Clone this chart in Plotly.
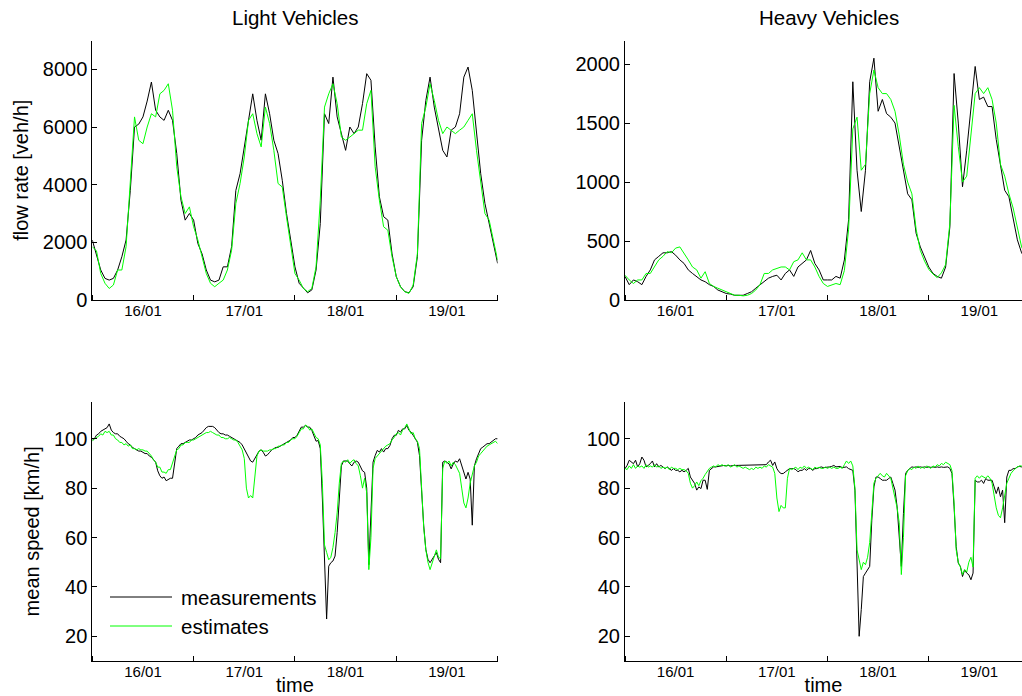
import numpy as np
import pandas as pd
import plotly.graph_objects as go

# ---------------- data ----------------
base = pd.Timestamp("2013-01-16")
hours = np.arange(0, 97)               # hourly samples, 16/01 00:00 .. 20/01 00:00
half_hours = np.arange(0, 193) * 0.5   # half-hourly samples

light_flow_meas = [
    2080, 1600, 1040, 750, 690, 750, 1040, 1500, 2080, 3800, 6000, 6100,
    6350, 6900, 7560, 6580, 6350, 6230, 6580, 6230, 5080, 3460, 2770, 3000,
    2770, 1960, 1600, 1040, 690, 630, 690, 1150, 1150, 1850, 3800, 4380,
    5310, 6230, 7150, 6230, 5540, 7150, 6460, 5540, 5080, 4150, 3000, 2080,
    1150, 580, 400, 250, 350, 1040, 2650, 6460, 6120, 7730, 6350, 5770,
    5190, 6000, 5770, 6000, 6810, 7850, 7620, 5310, 3580, 2890, 2770, 1600,
    810, 460, 290, 250, 460, 1500, 5540, 6920, 7730, 6690, 5890, 5190,
    4960, 5890, 6000, 6460, 7730, 8080, 7270, 5770, 4380, 3350, 2650, 1850,
    1270]
light_flow_est = [
    1850, 1700, 920, 580, 400, 520, 1040, 1040, 1850, 4150, 6350, 5540,
    5420, 6000, 6460, 6350, 7150, 7270, 7500, 6580, 4620, 3580, 3000, 3230,
    2540, 2080, 1500, 920, 580, 460, 580, 690, 1040, 1730, 3350, 4040,
    4960, 6230, 6460, 5770, 5310, 6690, 6120, 5190, 4040, 3920, 2880, 1850,
    920, 690, 400, 290, 400, 1150, 3460, 6690, 7150, 7500, 6810, 5650,
    5540, 5650, 5770, 5890, 5890, 6810, 7270, 4620, 3460, 2540, 2420, 1500,
    810, 460, 290, 230, 520, 1600, 6120, 6690, 7500, 6920, 6230, 5770,
    6000, 5890, 5770, 5890, 6000, 6230, 6460, 5190, 4150, 3000, 2770, 2080,
    1380]

heavy_flow_meas = [
    200, 130, 170, 155, 130, 200, 255, 340, 370, 400, 400, 410,
    380, 340, 310, 255, 225, 200, 170, 155, 130, 115, 85, 70,
    55, 50, 40, 40, 40, 55, 70, 100, 130, 155, 185, 200,
    210, 170, 225, 255, 200, 280, 310, 340, 420, 310, 255, 170,
    170, 170, 200, 185, 340, 680, 1850, 1100, 750, 1100, 1850, 2050,
    1600, 1700, 1580, 1550, 1500, 1300, 1070, 900, 850, 565, 450, 370,
    280, 225, 200, 185, 280, 620, 1920, 1500, 960, 1270, 1640, 1980,
    1700, 1720, 1640, 1640, 1360, 1130, 930, 875, 700, 510, 400, 350,
    300]
heavy_flow_est = [
    210, 170, 140, 170, 170, 225, 225, 280, 340, 370, 410, 400,
    440, 450, 400, 340, 280, 255, 185, 240, 140, 115, 100, 85,
    70, 55, 40, 40, 35, 40, 55, 85, 130, 225, 225, 255,
    270, 280, 280, 255, 325, 340, 400, 340, 340, 280, 200, 140,
    115, 130, 140, 130, 250, 600, 1450, 1550, 1100, 1150, 1750, 1950,
    1800, 1750, 1750, 1700, 1600, 1400, 1150, 1000, 900, 600, 420, 330,
    260, 220, 190, 230, 300, 650, 1650, 1300, 1000, 1050, 1400, 1750,
    1800, 1750, 1800, 1700, 1500, 1150, 1050, 900, 780, 600, 450, 380,
    350]

light_speed_meas = [
    99.5, 100, 101.5, 102, 103, 103.5, 104, 104.5, 106, 103.5, 102.5, 102, 102, 101, 100.5, 100, 99, 98, 97.5, 96.5, 96, 95.5, 95, 95,
    94.5, 94, 94, 93, 92.5, 91.5, 90.5, 87, 85, 84, 84.5, 83, 83.5, 84, 84, 90, 96, 97, 98, 98, 98.5, 99, 99.5, 99.5,
    100, 100.5, 101.5, 102, 102.5, 103.5, 104.5, 105, 105, 105, 104.5, 103.5, 102.5, 102, 102, 101.5, 101.5, 101, 100.5, 100, 99.5, 99, 98.5, 97.5,
    96, 94.5, 93, 91, 90.5, 92, 93.5, 95, 95.5, 94.5, 93, 93.5, 94.5, 95.5, 96, 96.5, 96.5, 97, 97.5, 98, 98.5, 99, 99.5, 100.5,
    100.5, 101.4, 103.4, 104.7, 104.7, 105.4, 104.7, 104.7, 103.4, 101.4, 99, 99.3, 96, 75.6, 54, 27, 48.4, 49.8, 50.5, 52.5, 62, 75.6, 89, 91,
    91, 91, 89.8, 89, 90.5, 91, 90.5, 89, 87, 86.4, 80, 49, 68.8, 90.5, 93.2, 95.3, 94.6, 96, 94.6, 96, 96, 97.3, 100, 101.4,
    101.4, 103.4, 102.7, 104, 104, 105.4, 103.4, 102.7, 101.4, 100, 98.6, 93.2, 78.3, 64.7, 55.2, 51.2, 49.8, 51.2, 52.5, 53.9, 51.2, 49.8, 90.5, 91,
    90.5, 89.8, 87.8, 89.8, 91, 90.5, 91.9, 89, 86.4, 83.7, 86.4, 83.7, 65, 89, 91.9, 93.9, 96, 96.6, 97.3, 98, 98, 98.6, 99.3, 100,
    100]
light_speed_est = [
    99, 100, 100.5, 101, 102, 101.5, 103, 102.5, 103, 101.5, 101.5, 100, 99.5, 98.5, 98.5, 97.5, 98, 97, 97.5, 96, 96, 95.5, 96, 95.5,
    95.5, 95, 95, 94, 93, 91.5, 90.5, 88.5, 88.5, 86.5, 86.5, 86, 87.5, 87.5, 90, 93, 95.5, 96, 97.5, 97.5, 98.5, 98.5, 98.5, 99.5,
    99.5, 100, 100.5, 101, 101.5, 102, 102.5, 102.5, 103, 102.5, 102, 101.5, 101.5, 100.5, 100.5, 100, 100, 100.5, 100, 99.5, 99.5, 98.5, 97, 95.5,
    92, 80, 76, 77, 76, 86, 93, 95, 95.5, 95, 95, 95, 95.5, 95.5, 96, 96, 97, 97, 97.5, 97.5, 98.5, 98.5, 99.5, 100,
    100, 101, 102.5, 104, 104, 105.5, 105, 103.5, 104, 102, 100.5, 100, 97.5, 82, 57, 54, 51, 52, 56, 62, 70, 82, 90, 91,
    90.5, 91.5, 90, 91, 91.5, 90, 89, 85, 80, 84, 78, 47, 60, 88, 92, 93, 94, 95, 96, 97, 97.5, 98, 99.5, 100.5,
    102, 102.5, 101.5, 103.5, 104.5, 106, 104, 102, 102.5, 100, 99, 96, 80, 64, 55, 50, 47, 50, 52.5, 55, 52, 51.5, 88, 91,
    90, 91, 89, 90.5, 89.5, 88, 86, 80, 74, 72, 76, 82, 86, 89, 90.5, 93, 94, 95, 96, 97, 97.5, 98, 98.5, 99,
    98]

heavy_speed_meas = [
    87.9, 89.2, 91.3, 90.6, 89.9, 91.3, 88.6, 89.9, 92.6, 91.3, 88.6, 89.2, 89.9, 91, 88.6, 89.9, 88.6, 89.2, 88.6, 87.9, 88.6, 87.9, 87.2, 87.9,
    87.2, 87.2, 86.6, 87.2, 86.6, 87.2, 88, 84.5, 83.2, 81.9, 79.2, 80.5, 79.8, 83.2, 83.2, 79.5, 87.2, 87.9, 88.6, 88.6, 88.8, 89, 89, 89.2,
    89, 89.2, 89, 89.2, 89.2, 89.2, 89.2, 89.2, 89.2, 89.2, 89.2, 89.2, 89.2, 89.2, 89.2, 89.2, 89.2, 89.2, 89.2, 89.5, 90.6, 91.3, 89.2, 90.6,
    87.9, 86.6, 85.9, 85.9, 86.6, 87.2, 87.9, 87.9, 87.9, 87.5, 86.6, 87.2, 87.2, 87.9, 87.2, 87.9, 87.9, 87.2, 87.9, 87.9, 88.3, 88.6, 88.3, 88.3,
    88.3, 88.6, 88.8, 89.2, 88.6, 88.6, 88.8, 88.3, 88.3, 88.6, 87.9, 87.5, 87.2, 79.2, 52.3, 20, 30.8, 44.2, 45.6, 46.9, 48.3, 67, 80.5, 84.5,
    84.5, 83.9, 83.2, 83.2, 83.2, 83.9, 84.5, 81.9, 79.2, 72.4, 60, 48.3, 69.8, 85.9, 87.2, 87.9, 88.6, 88.4, 88.6, 88.4, 88.6, 88.4, 88.6, 88.4,
    88.6, 88.4, 88.6, 88.4, 88.6, 88.4, 88.6, 88.4, 88.6, 88.6, 88, 85.9, 72.4, 56.3, 49.6, 48.3, 44.2, 46.9, 45.6, 44.9, 42.9, 45.6, 83.2, 82.5,
    82.5, 83.2, 81.9, 83.9, 83.2, 83.2, 83.2, 80.5, 77.8, 80.5, 76.5, 79.2, 66, 84.5, 87.2, 87.2, 87.9, 87.9, 88.6, 88.8, 88.6, 88.8, 89, 89,
    89]
heavy_speed_est = [
    88, 87.5, 89, 88, 89.5, 88, 89, 88.5, 89, 88, 89.5, 88.5, 89, 88.5, 89.5, 88.5, 89, 88, 88.5, 88, 88.5, 87.5, 88.5, 88,
    88, 87.5, 88, 87.5, 87.5, 87, 86, 82, 80, 81, 82.5, 81, 83, 84, 85.5, 87, 88, 88.5, 89, 88.5, 89.5, 89, 89.5, 89,
    89, 89.5, 88.5, 89, 89.5, 88.5, 89, 88.5, 88, 88.5, 88, 87.5, 88, 87.5, 88.5, 88, 88.5, 88, 89, 88.5, 89.5, 89, 88.5, 86,
    76, 70.5, 73, 72, 72, 84, 88, 87.5, 88, 88.5, 87.5, 88.5, 88, 89, 88, 88.5, 88, 87.5, 88.5, 88, 88.5, 88, 88, 88.5,
    88, 88.5, 88, 88.5, 88, 88, 88.5, 88, 89.5, 91, 90, 91, 89, 80, 55, 51, 47, 50, 49, 52, 58, 70, 82, 84,
    85, 86, 85, 84.5, 86, 85, 84, 80, 76, 72, 66, 45, 60, 85, 87, 88, 87.5, 88.5, 88, 89, 88, 88.5, 88, 89,
    88.5, 88, 89, 88.5, 89.5, 89, 90, 89.5, 90.5, 90, 89.5, 87, 74, 55, 50, 48, 45, 47, 46, 50, 52, 48, 84, 85,
    84, 85, 84.5, 84, 85, 84, 82, 76, 72, 69, 68, 72, 78, 82, 84, 86, 87, 88, 88.5, 89, 89, 88, 88.5, 89,
    89]

panel_titles = ["Light Vehicles", "Heavy Vehicles"]
legend_labels = ["measurements", "estimates"]
day_tick_format = "%d/%m"

# ---------------- figure ----------------
t_hourly = base + pd.to_timedelta(hours, unit="h")
t_half = base + pd.to_timedelta(half_hours, unit="h")

MEAS_COLOR = "#000000"
EST_COLOR = "#00ff00"
FONT = "Liberation Sans, Arial, Helvetica, sans-serif"

W, H = 1022, 696
fig = go.Figure()

panels = [
    ("x", "y", t_hourly, light_flow_meas, light_flow_est),
    ("x2", "y2", t_hourly, heavy_flow_meas, heavy_flow_est),
    ("x3", "y3", t_half, light_speed_meas, light_speed_est),
    ("x4", "y4", t_half, heavy_speed_meas, heavy_speed_est),
]
for i, (xa, ya, tt, meas, est) in enumerate(panels):
    fig.add_trace(go.Scatter(x=tt, y=meas, mode="lines", xaxis=xa, yaxis=ya,
                             line=dict(color=MEAS_COLOR, width=1),
                             name=legend_labels[0], showlegend=False))
    fig.add_trace(go.Scatter(x=tt, y=est, mode="lines", xaxis=xa, yaxis=ya,
                             line=dict(color=EST_COLOR, width=1),
                             name=legend_labels[1], showlegend=False))

# pixel geometry -> paper fractions
def px_x(p):
    return p / W

def px_y(p):
    return 1 - p / H

left_dom = [px_x(92.3), px_x(497.6)]
right_dom = [px_x(625.0), 1.0]
top_dom = [px_y(300.0), px_y(40.5)]
bot_dom = [px_y(661.0), px_y(401.7)]

t_start = str(base)
t_end_full = str(base + pd.Timedelta(hours=96))
t_end_right = str(base + pd.Timedelta(hours=94.1))

common = dict(showline=True, linecolor="black", linewidth=1, mirror=False,
              ticks="inside", ticklen=5, tickwidth=1, tickcolor="black",
              showgrid=False, zeroline=False, automargin=False)

def xax(domain, anchor, rng, title=None):
    d = dict(common, domain=domain, anchor=anchor, type="date", range=rng,
             tick0=t_start, dtick=86400000, tickformat=day_tick_format,
             ticklabelmode="period", ticklabelstandoff=-3,
             tickfont=dict(family=FONT, size=15, color="black"))
    if title:
        d["title"] = dict(text=title, font=dict(family=FONT, size=20, color="black"), standoff=0)
    return d

def yax(domain, anchor, rng, dtick, title=None):
    d = dict(common, domain=domain, anchor=anchor, range=rng, dtick=dtick, tick0=0,
             tickfont=dict(family=FONT, size=20, color="black"))
    if title:
        d["title"] = dict(text=title, font=dict(family=FONT, size=20, color="black"), standoff=8)
    return d

fig.update_layout(
    width=W, height=H,
    margin=dict(l=0, r=0, t=0, b=0),
    paper_bgcolor="white", plot_bgcolor="white",
    showlegend=False,
    xaxis=xax(left_dom, "y", [t_start, t_end_full]),
    yaxis=yax(top_dom, "x", [0, 9000], 2000, "flow rate [veh/h]"),
    xaxis2=xax(right_dom, "y2", [t_start, t_end_right]),
    yaxis2=yax(top_dom, "x2", [0, 2200], 500),
    xaxis3=xax(left_dom, "y3", [t_start, t_end_full], "time"),
    yaxis3=yax(bot_dom, "x3", [10, 115], 20, "mean speed [km/h]"),
    xaxis4=xax(right_dom, "y4", [t_start, t_end_right], "time"),
    yaxis4=yax(bot_dom, "x4", [10, 115], 20),
)

# panel titles
for txt, cx in zip(panel_titles, [px_x(295.0), px_x(828.5)]):
    fig.add_annotation(text=txt, x=cx, y=px_y(17), xref="paper", yref="paper",
                       xanchor="center", yanchor="middle", showarrow=False,
                       font=dict(family=FONT, size=20.5, color="black"))

# legend inside bottom-left panel (no frame, as in reference)
for lbl, col, ypx in zip(legend_labels, [MEAS_COLOR, EST_COLOR], [597.0, 626.0]):
    fig.add_shape(type="line", xref="paper", yref="paper",
                  x0=px_x(110), x1=px_x(172), y0=px_y(ypx), y1=px_y(ypx),
                  line=dict(color=col, width=1))
    fig.add_annotation(text=lbl, x=px_x(179), y=px_y(ypx), xref="paper", yref="paper",
                       xanchor="left", yanchor="middle", showarrow=False,
                       font=dict(family=FONT, size=20.5, color="black"))

# remove the default 8px page margin so the figure sits flush in the window
fig.write_html("out.html",
               config={"displayModeBar": False},
               post_script="document.body.style.margin='0';document.body.style.overflow='hidden';")
